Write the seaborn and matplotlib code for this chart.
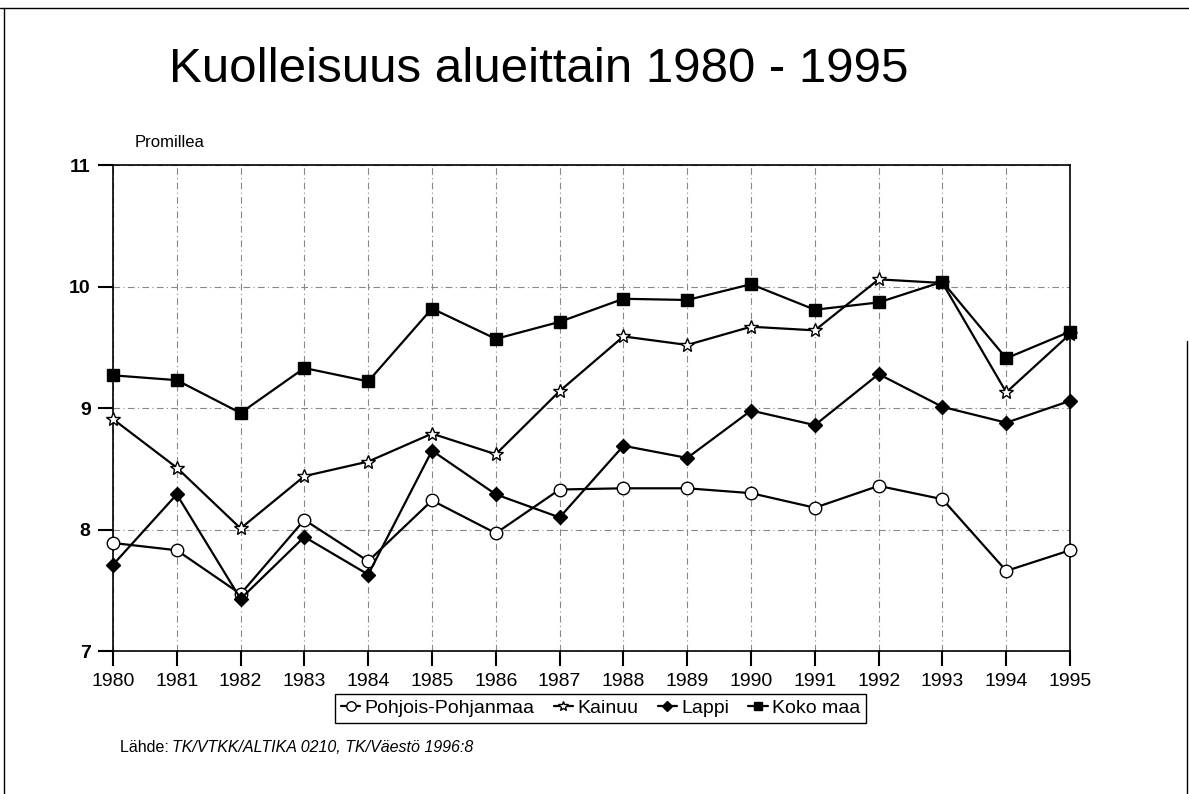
import numpy as np
import pandas as pd
import matplotlib
matplotlib.use("Agg")
import matplotlib.pyplot as plt
from matplotlib.lines import Line2D
import seaborn as sns

# ### Data (deaths per 1000)
years = list(range(1980, 1996))
pohjois_pohjanmaa = [7.89, 7.83, 7.47, 8.08, 7.74, 8.24, 7.97, 8.33,
                     8.34, 8.34, 8.30, 8.18, 8.36, 8.25, 7.66, 7.83]
kainuu = [8.91, 8.51, 8.01, 8.44, 8.56, 8.79, 8.62, 9.14,
          9.59, 9.52, 9.67, 9.64, 10.06, 10.03, 9.13, 9.61]
lappi = [7.71, 8.29, 7.43, 7.94, 7.63, 8.65, 8.29, 8.10,
         8.69, 8.59, 8.98, 8.86, 9.28, 9.01, 8.88, 9.06]
koko_maa = [9.27, 9.23, 8.96, 9.33, 9.22, 9.82, 9.57, 9.71,
            9.90, 9.89, 10.02, 9.81, 9.87, 10.04, 9.41, 9.63]

series_names = ["Pohjois-Pohjanmaa", "Kainuu", "Lappi", "Koko maa"]
series_values = [pohjois_pohjanmaa, kainuu, lappi, koko_maa]
y_ticks = [7, 8, 9, 10, 11]

# marker style per series: (marker, size, facecolor)
marker_styles = {
    "Pohjois-Pohjanmaa": ("o", 9, "white"),
    "Kainuu": ("*", 10, "white"),
    "Lappi": ("D", 7, "black"),
    "Koko maa": ("s", 8.5, "black"),
}

df = pd.DataFrame({"Vuosi": years})
for name, vals in zip(series_names, series_values):
    df[name] = vals

sns.set_style("white")
plt.rcParams["font.family"] = ["Liberation Sans", "DejaVu Sans"]
plt.rcParams["text.color"] = "black"

fig = plt.figure(figsize=(11.89, 7.94), dpi=100)
ax = fig.add_axes([0.095, 0.180, 0.805, 0.612])

# Paint the lines
for name in series_names:
    m, ms, fc = marker_styles[name]
    sns.lineplot(x="Vuosi", y=name, data=df, ax=ax, color="black", linewidth=1.6,
                 marker=m, markersize=ms, markerfacecolor=fc, clip_on=False,
                 markeredgecolor="black", markeredgewidth=1.0, label=name, zorder=3)

ax.set_xlim(years[0], years[-1])
ax.set_ylim(7, 11)
ax.set_xticks(years)
ax.set_xticklabels([str(y) for y in years], fontsize=14, color="black")
ax.set_yticks(y_ticks)
ax.set_yticklabels([str(t) for t in y_ticks], fontsize=14, fontweight="bold", color="black")
ax.set_xlabel("")
ax.set_ylabel("")

# grid and frame
ax.grid(True, color="#888888", linestyle=(0, (6, 3, 1, 3)), linewidth=0.8)
for side in ax.spines.values():
    side.set_color("black")
    side.set_linewidth(1.2)

# seaborn's white style hides the tick marks, so switch them on again
for tick in ax.xaxis.get_major_ticks() + ax.yaxis.get_major_ticks():
    tick.tick1line.set_visible(True)
    tick.tick1line.set_markersize(11)
    tick.tick1line.set_markeredgewidth(1.5)
    tick.tick1line.set_color("black")
ax.tick_params(axis="both", which="major", direction="out", length=11, width=1.5,
               color="black", bottom=True, left=True, pad=5)

# legend below the plot
handles = []
for name in series_names:
    m, ms, fc = marker_styles[name]
    handles.append(Line2D([0], [0], color="black", linewidth=1.6, marker=m,
                          markersize=ms * 0.75, markerfacecolor=fc, markeredgecolor="black"))
ax.legend(handles, series_names, loc="center", bbox_to_anchor=(0.505, 0.108),
          bbox_transform=fig.transFigure, ncol=4, frameon=True, fancybox=False,
          edgecolor="black", fontsize=14, handlelength=1.0, handletextpad=0.2,
          columnspacing=1.0, borderpad=0.3, framealpha=1)
ax.get_legend().get_frame().set_linewidth(1.0)

# texts
fig.text(0.453, 0.912, "Kuolleisuus alueittain 1980 - 1995", ha="center", va="center",
         fontsize=35.5, color="black")
fig.text(0.113, 0.820, "Promillea", ha="left", va="center", fontsize=12)
fig.text(0.101, 0.058, "Lähde: ", ha="left", va="center", fontsize=11.5)
fig.text(0.145, 0.058, "TK/VTKK/ALTIKA 0210, TK/Väestö 1996:8", ha="left", va="center",
         fontsize=11.5, style="italic")

# page border like in the scanned original
fig.add_artist(Line2D([0, 1], [0.990, 0.990], color="black", linewidth=1.0,
                      transform=fig.transFigure))
fig.add_artist(Line2D([0.003, 0.003], [0, 0.990], color="black", linewidth=1.0,
                      transform=fig.transFigure))
fig.add_artist(Line2D([0.998, 0.998], [0, 0.57], color="black", linewidth=1.0,
                      transform=fig.transFigure))

fig.savefig("out.png", dpi=100)
